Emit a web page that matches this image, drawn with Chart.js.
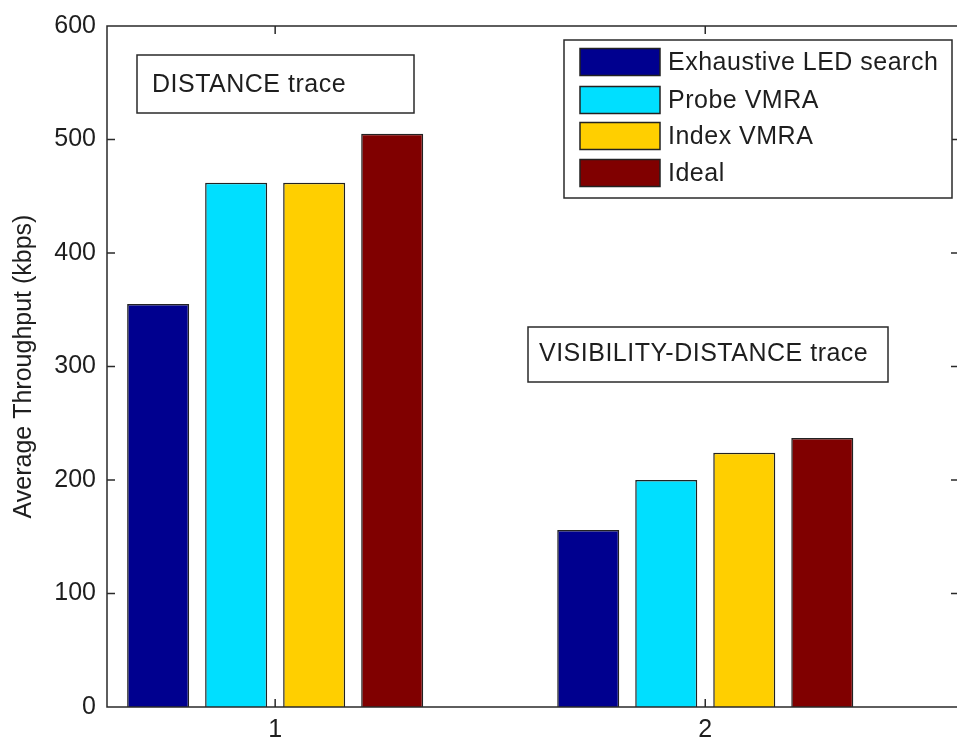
<!DOCTYPE html>
<html>
<head>
<meta charset="utf-8">
<script src="https://cdn.jsdelivr.net/npm/chart.js@4.4.1/dist/chart.umd.min.js"></script>
<style>
  html, body { margin: 0; padding: 0; background: #fff; overflow: hidden; }
  #wrap { width: 962px; height: 739px; }
</style>
</head>
<body>
<div id="wrap"><canvas id="throughputChart" width="962" height="739"></canvas></div>
<script>
// data
const categories = [1, 2];
const seriesNames = ["Exhaustive LED search", "Probe VMRA", "Index VMRA", "Ideal"];
const exhaustive = [355, 156];
const probe = [462, 200];
const index = [462, 224];
const ideal = [505, 237];
const yTicks = [0, 100, 200, 300, 400, 500, 600];
const xTicks = [1, 2];
const colors = ["rgb(0, 0, 143)", "rgb(0, 223, 255)", "rgb(255, 207, 0)", "rgb(128, 0, 0)"];
const notes = ["DISTANCE trace", "VISIBILITY-DISTANCE trace"];

const FONT = "'Liberation Sans', Arial, sans-serif";
const TXT = "#1e1e1e";
Chart.defaults.font.family = FONT;
Chart.defaults.font.size = 25;
Chart.defaults.color = TXT;

const allSeries = [exhaustive, probe, index, ideal];
const datasets = allSeries.map(function (vals, i) {
  return {
    label: seriesNames[i],
    data: categories.map(function (c, j) { return { x: c, y: vals[j] }; }),
    backgroundColor: colors[i],
    borderColor: "#222",
    borderWidth: 1.5,
    categoryPercentage: 0.7256,
    barPercentage: 0.795
  };
});

// box around the axes, inward ticks on all four sides
const matlabAxes = {
  id: "matlabAxes",
  afterDraw: function (chart) {
    const c = chart.ctx;
    const a = chart.chartArea;
    const xs = chart.scales.x;
    const ys = chart.scales.y;
    const tl = 8;
    c.save();
    c.strokeStyle = "#2a2a2a";
    c.lineWidth = 1.5;
    c.beginPath();
    c.rect(a.left, a.top, a.right - a.left, a.bottom - a.top);
    yTicks.forEach(function (v) {
      const py = ys.getPixelForValue(v);
      c.moveTo(a.left, py); c.lineTo(a.left + tl, py);
      c.moveTo(a.right, py); c.lineTo(a.right - tl, py);
    });
    xTicks.forEach(function (v) {
      const px = xs.getPixelForValue(v);
      c.moveTo(px, a.bottom); c.lineTo(px, a.bottom - tl);
      c.moveTo(px, a.top); c.lineTo(px, a.top + tl);
    });
    c.stroke();

    // text boxes
    c.lineWidth = 1.5;
    c.font = "25px " + FONT;
    c.letterSpacing = "0.5px";
    c.textBaseline = "middle";
    c.textAlign = "left";
    const boxes = [
      { x: 137, y: 55, w: 277, h: 58, tx: 152, ty: 85 },
      { x: 528, y: 327, w: 360, h: 55, tx: 539, ty: 354 }
    ];
    boxes.forEach(function (b, i) {
      c.fillStyle = "#fff";
      c.fillRect(b.x, b.y, b.w, b.h);
      c.strokeRect(b.x, b.y, b.w, b.h);
      c.fillStyle = TXT;
      c.fillText(notes[i], b.tx, b.ty);
    });

    // legend
    const lx = 564, ly = 40, lw = 388, lh = 158;
    c.fillStyle = "#fff";
    c.fillRect(lx, ly, lw, lh);
    c.strokeRect(lx, ly, lw, lh);
    const rows = [62, 100, 136, 173];
    chart.data.datasets.forEach(function (ds, i) {
      c.fillStyle = ds.backgroundColor;
      c.fillRect(580, rows[i] - 13.5, 80, 27);
      c.strokeStyle = "#222";
      c.strokeRect(580, rows[i] - 13.5, 80, 27);
      c.fillStyle = TXT;
      c.fillText(ds.label, 668, rows[i] + 1);
    });
    c.restore();
  }
};

const chart = new Chart(document.getElementById("throughputChart"), {
  type: "bar",
  data: { datasets: datasets },
  options: {
    responsive: false,
    animation: false,
    layout: { padding: { top: 25, right: 3, left: 0, bottom: 0 } },
    plugins: {
      legend: { display: false },
      tooltip: { enabled: false }
    },
    scales: {
      x: {
        type: "linear",
        offset: false,
        min: 0.609,
        max: 2.59,
        grid: { display: false, drawTicks: false, offset: false },
        border: { display: false },
        ticks: { padding: 8, color: TXT },
        afterBuildTicks: function (scale) {
          scale.ticks = xTicks.map(function (v) { return { value: v }; });
        },
        afterFit: function (scale) { scale.height = 32; }
      },
      y: {
        min: 0,
        max: 600,
        grid: { display: false, drawTicks: false },
        border: { display: false },
        ticks: { stepSize: 100, padding: 11, color: TXT },
        afterBuildTicks: function (scale) {
          scale.ticks = yTicks.map(function (v) { return { value: v }; });
        },
        title: {
          display: true,
          text: "Average Throughput (kbps)",
          color: TXT,
          font: { size: 25 },
          padding: { top: 9, bottom: 0 }
        },
        afterFit: function (scale) { scale.width = 107; }
      }
    }
  },
  plugins: [matlabAxes]
});
</script>
</body>
</html>
